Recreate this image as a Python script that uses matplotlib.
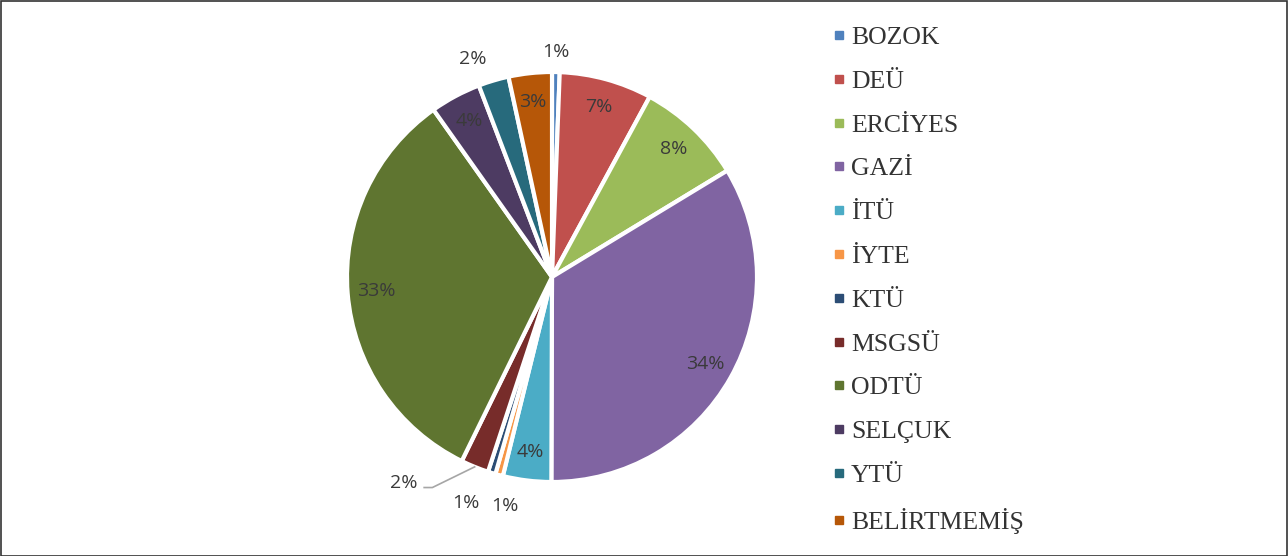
import matplotlib
matplotlib.use("Agg")
import matplotlib.pyplot as plt
from matplotlib.lines import Line2D
from matplotlib.patches import Rectangle
import numpy as np

# data (percent shares)
universities = ["BOZOK", "DEÜ", "ERCİYES", "GAZİ", "İTÜ", "İYTE", "KTÜ",
                "MSGSÜ", "ODTÜ", "SELÇUK", "YTÜ", "BELİRTMEMİŞ"]
shares = [0.6, 7.3, 8.4, 33.7, 3.8, 0.6, 0.6, 2.2, 32.9, 4.0, 2.4, 3.4]
colors = ["#4F81BD", "#C0504D", "#9BBB59", "#8064A2", "#4BACC6", "#F79646",
          "#2C4D75", "#772C2A", "#5F7530", "#4D3B62", "#276A7C", "#B65708"]

# outside label placement: name -> (angle deg, radius)
outside = {
    "BOZOK": (89, 1.10),
    "YTÜ": (110, 1.13),
    "MSGSÜ": (234.3, 1.24),
    "KTÜ": (249.2, 1.18),
    "İYTE": (258.4, 1.14),
}

W, H = 1288, 556
fig = plt.figure(figsize=(W / 100, H / 100), dpi=100)
fig.patch.set_facecolor("white")

cx, cy, r = 552, 277, 205
ax = fig.add_axes([(cx - r) / W, (H - cy - r) / H, 2 * r / W, 2 * r / H])
wedges, _ = ax.pie(shares, colors=colors, startangle=90, counterclock=False,
                   radius=1.0, wedgeprops=dict(edgecolor="white", linewidth=3))
ax.set_xlim(-1, 1)
ax.set_ylim(-1, 1)
ax.set_aspect("equal")
ax.axis("off")

total = sum(shares)
lab_font = dict(family="Open Sans", fontsize=14, color="#3a3a3a")
for name, w, v in zip(universities, wedges, shares):
    txt = "%d%%" % max(1, round(v / total * 100))
    mid = np.deg2rad((w.theta1 + w.theta2) / 2)
    if name in outside:
        ang, rad = outside[name]
        a = np.deg2rad(ang)
        x, y = rad * np.cos(a), rad * np.sin(a)
        t = ax.text(x, y, txt, ha="center", va="center", **lab_font)
        t.set_clip_on(False)
        if name == "MSGSÜ":
            ax.plot([x + 0.10, x + 0.14, 1.0 * np.cos(mid)],
                    [y - 0.02, y - 0.02, 1.0 * np.sin(mid)],
                    color="#A6A6A6", lw=1.2, clip_on=False)
    else:
        ax.text(0.86 * np.cos(mid), 0.86 * np.sin(mid), txt,
                ha="center", va="center", **lab_font)

handles = [Line2D([], [], marker="s", linestyle="none", markersize=6,
                  markerfacecolor=c, markeredgecolor=c) for c in colors]
fig.legend(handles, universities, loc="upper left",
           bbox_to_anchor=(831 / W, 1 - 26 / H), frameon=False,
           prop=dict(family="Liberation Serif", size=18.5),
           labelcolor="#333333", handlelength=0.6, handletextpad=0.17,
           labelspacing=0.81, borderpad=0, borderaxespad=0)

fig.add_artist(Rectangle((0.5 / W, 0.5 / H), 1 - 1.5 / W, 1 - 1.5 / H,
                         transform=fig.transFigure, fill=False,
                         edgecolor="#333333", linewidth=1.2))

fig.savefig("out.png", dpi=100)
